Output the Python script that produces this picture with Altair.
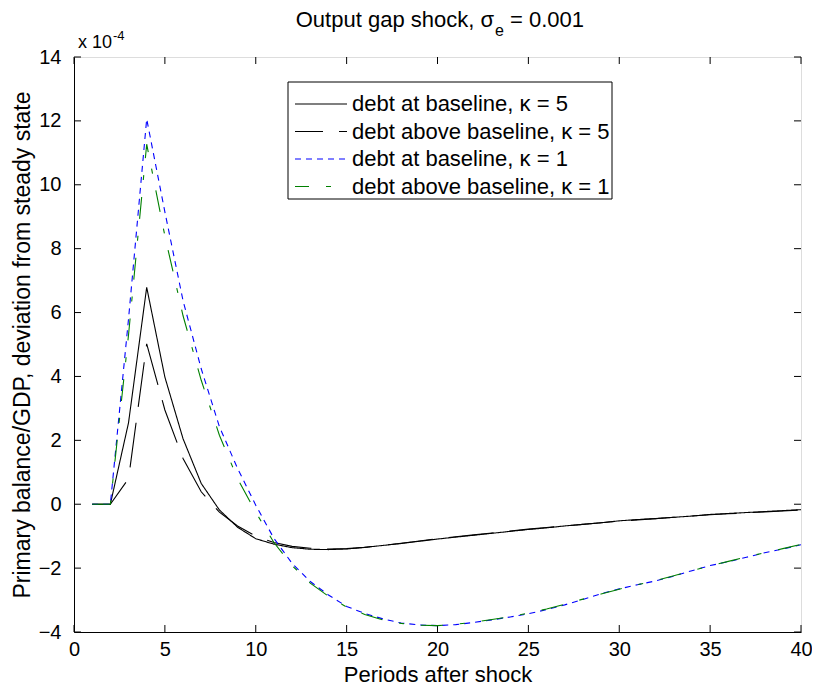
import altair as alt
import pandas as pd

# ---------------- data (units of 1e-4) ----------------
periods = list(range(1, 41))

base_k5 = [0, 0, 2.55, 6.79, 3.98, 2.05, 0.65, -0.18, -0.72, -1.08,
           -1.25, -1.36, -1.41, -1.42, -1.40, -1.35, -1.29, -1.23, -1.16, -1.09,
           -1.03, -0.97, -0.91, -0.85, -0.79, -0.74, -0.68, -0.63, -0.58, -0.52,
           -0.48, -0.45, -0.41, -0.37, -0.32, -0.29, -0.26, -0.23, -0.20, -0.17]

above_k5 = [0, 0, 0.80, 5.02, 2.95, 1.43, 0.39, -0.25, -0.68, -1.00,
            -1.20, -1.32, -1.38, -1.40, -1.39, -1.35, -1.29, -1.22, -1.15, -1.08,
            -1.02, -0.96, -0.90, -0.84, -0.78, -0.73, -0.68, -0.63, -0.58, -0.53,
            -0.49, -0.45, -0.41, -0.37, -0.33, -0.30, -0.27, -0.24, -0.21, -0.18]

base_k1 = [0, 0, 5.8, 12.06, 9.15, 6.37, 4.24, 2.43, 1.12, -0.03,
           -1.07, -1.85, -2.42, -2.84, -3.20, -3.42, -3.59, -3.72, -3.78, -3.80,
           -3.77, -3.70, -3.62, -3.53, -3.43, -3.30, -3.15, -2.98, -2.80, -2.65,
           -2.52, -2.40, -2.25, -2.08, -1.92, -1.80, -1.66, -1.52, -1.40, -1.27]

above_k1 = [0, 0, 5.3, 11.27, 8.40, 5.90, 3.88, 2.16, 0.80, -0.25,
            -1.20, -1.92, -2.47, -2.88, -3.22, -3.45, -3.62, -3.73, -3.79, -3.80,
            -3.76, -3.69, -3.61, -3.52, -3.41, -3.28, -3.13, -2.97, -2.81, -2.66,
            -2.52, -2.39, -2.24, -2.08, -1.93, -1.79, -1.65, -1.52, -1.39, -1.26]

series_names = ["debt at baseline, \u03ba = 5", "debt above baseline, \u03ba = 5",
                "debt at baseline, \u03ba = 1", "debt above baseline, \u03ba = 1"]
series_values = [base_k5, above_k5, base_k1, above_k1]
series_colors = ["#000000", "#000000", "#0000ff", "#008000"]
series_dashes = [[1, 0], [45, 16], [6, 5], [22, 17, 5, 17]]
legend_dash_offsets = [0, 17, 0, 8]

x_ticks = list(range(0, 41, 5))
y_ticks = list(range(-4, 15, 2))

# ---------------- layout ----------------
W, H = 727, 575
FONT = "Liberation Sans"
TICK = 7

xs = alt.Scale(domain=[0, 40], nice=False, zero=False)
ys = alt.Scale(domain=[-4, 14], nice=False, zero=False)

x_axis = alt.Axis(values=x_ticks, title="Periods after shock", ticks=False, tickSize=0,
                  grid=False, labelFontSize=20, labelFont=FONT, labelColor="black",
                  labelPadding=7, labelOverlap=False, labelFlush=False, labelBound=False,
                  domainColor="black", domainWidth=1,
                  titleFont=FONT, titleFontSize=22, titleFontWeight="normal", titleColor="black",
                  titleY=49, titleBaseline="alphabetic")
y_axis = alt.Axis(values=y_ticks, title="Primary balance/GDP, deviation from steady state",
                  ticks=False, tickSize=0, grid=False, labelFontSize=20, labelFont=FONT,
                  labelColor="black", labelPadding=13, labelOverlap=False, labelFlush=False,
                  labelBound=False, domainColor="black", domainWidth=1,
                  titleFont=FONT, titleFontSize=23, titleFontWeight="normal", titleColor="black",
                  titleX=-52, titleY=H / 2, titleAngle=270, titleAlign="center",
                  titleBaseline="middle")

layers = []

# inward ticks (MATLAB box style)
ydf = pd.DataFrame({"value": y_ticks})
xdf = pd.DataFrame({"period": x_ticks})
layers.append(alt.Chart(ydf).mark_rule(color="black", strokeWidth=1).encode(
    y=alt.Y("value:Q", scale=ys, axis=y_axis), x=alt.value(0), x2=alt.value(TICK)))
layers.append(alt.Chart(ydf).mark_rule(color="black", strokeWidth=1).encode(
    y=alt.Y("value:Q", scale=ys, axis=y_axis), x=alt.value(W - TICK), x2=alt.value(W)))
layers.append(alt.Chart(xdf).mark_rule(color="black", strokeWidth=1).encode(
    x=alt.X("period:Q", scale=xs, axis=x_axis), y=alt.value(H), y2=alt.value(H - TICK)))
layers.append(alt.Chart(xdf).mark_rule(color="black", strokeWidth=1).encode(
    x=alt.X("period:Q", scale=xs, axis=x_axis), y=alt.value(0), y2=alt.value(TICK)))

# data lines
for name, vals, col, dash in zip(series_names, series_values, series_colors, series_dashes):
    df = pd.DataFrame({"period": periods, "value": vals})
    layers.append(alt.Chart(df).mark_line(color=col, strokeDash=dash, strokeWidth=1.1,
                                          clip=True).encode(
        x=alt.X("period:Q", scale=xs, axis=x_axis),
        y=alt.Y("value:Q", scale=ys, axis=y_axis)))

one = pd.DataFrame({"k": [0]})

# legend box
LX0, LX1, LY0, LY1 = 214, 538, 25, 142
layers.append(alt.Chart(one).mark_rect(fill="white", stroke="black", strokeWidth=1).encode(
    x=alt.value(LX0), x2=alt.value(LX1), y=alt.value(LY0), y2=alt.value(LY1)))
row_y = [47, 74.5, 102, 129.5]
for i, (name, col, dash) in enumerate(zip(series_names, series_colors, series_dashes)):
    layers.append(alt.Chart(one).mark_rule(color=col, strokeDash=dash,
                                           strokeDashOffset=legend_dash_offsets[i],
                                           strokeWidth=1.1).encode(
        x=alt.value(221), x2=alt.value(273), y=alt.value(row_y[i])))
    layers.append(alt.Chart(one).mark_text(text=name, font=FONT, fontSize=22, align="left",
                                           baseline="middle", color="black").encode(
        x=alt.value(278), y=alt.value(row_y[i])))

# title with subscript
T = 420
layers.append(alt.Chart(one).mark_text(text="Output gap shock, \u03c3", font=FONT, fontSize=22,
                                       align="right", baseline="alphabetic", color="black").encode(
    x=alt.value(T), y=alt.value(-30)))
layers.append(alt.Chart(one).mark_text(text="e", font=FONT, fontSize=16, align="left",
                                       baseline="alphabetic", color="black").encode(
    x=alt.value(T + 1), y=alt.value(-21)))
layers.append(alt.Chart(one).mark_text(text="= 0.001", font=FONT, fontSize=22, align="left",
                                       baseline="alphabetic", color="black").encode(
    x=alt.value(T + 16), y=alt.value(-30)))

# exponent annotation
layers.append(alt.Chart(one).mark_text(text="x 10", font=FONT, fontSize=18, align="left",
                                       baseline="alphabetic", color="black").encode(
    x=alt.value(4), y=alt.value(-9)))
layers.append(alt.Chart(one).mark_text(text="-4", font=FONT, fontSize=13, align="left",
                                       baseline="alphabetic", color="black").encode(
    x=alt.value(39), y=alt.value(-17)))

chart = alt.layer(*layers).properties(
    width=W, height=H,
    autosize=alt.AutoSizeParams(type="none"),
    padding={"left": 66, "top": 49, "right": 11, "bottom": 50},
).configure_view(stroke="black", strokeWidth=1).configure(background="white")

chart.save("out.html", embed_options={"renderer": "svg", "actions": False})
